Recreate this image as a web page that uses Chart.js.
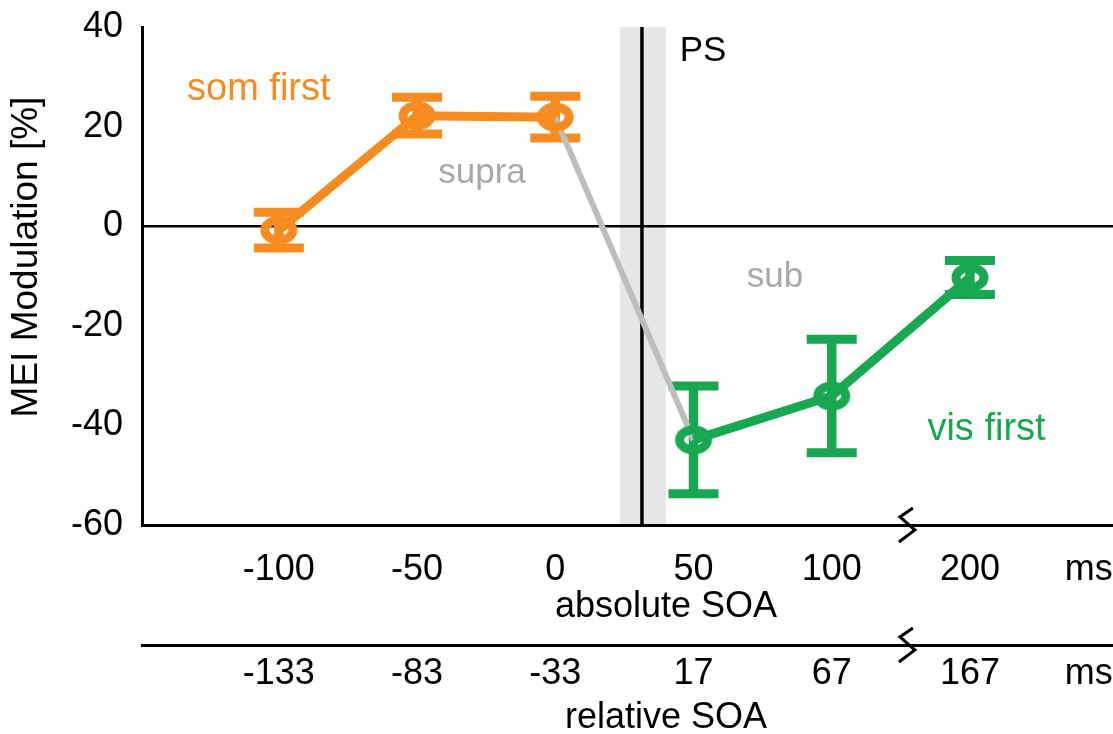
<!DOCTYPE html>
<html><head><meta charset="utf-8">
<script src="https://cdn.jsdelivr.net/npm/chart.js@4.4.1/dist/chart.umd.min.js"></script>
<style>html,body{margin:0;padding:0;background:#fff;}#wrap{width:1113px;height:734px;}</style>
</head><body><div id="wrap"><canvas id="c" width="1113" height="734"></canvas></div>
<script>
// ---- data ----
const categoryIndex = [0, 1, 2, 3, 4, 5];
const absoluteSOA = ['-100', '-50', '0', '50', '100', '200'];
const relativeSOA = ['-133', '-83', '-33', '17', '67', '167'];
const unitLabel = 'ms';
const unitPosition = [5.86];
const somFirstIdx = [0, 1, 2];
const somFirstValues = [-0.8, 22.2, 21.9];
const somFirstErrors = [3.6, 3.7, 4.2];
const visFirstIdx = [3, 4, 5];
const visFirstValues = [-42.9, -34.1, -10.3];
const visFirstErrors = [10.8, 11.4, 3.4];
const yTickValues = [-60, -40, -20, 0, 20, 40];
const psPosition = [2.627];
const psBand = [2.467, 2.80];
const axisBreak = [4.544];

const FONT = '"Liberation Sans", Arial, Helvetica, sans-serif';
const ORANGE = '#F68B1F', GREEN = '#17A851', GRAYLINE = '#BCBEC0', BAND = '#E6E7E8', GRAYTXT = '#A7A9AC';

function ring(color) {
  const c = document.createElement('canvas');
  c.width = 42; c.height = 34;
  const g = c.getContext('2d');
  g.strokeStyle = color; g.lineWidth = 9;
  g.beginPath(); g.ellipse(21, 17, 14, 10, 0, 0, Math.PI * 2); g.stroke();
  return c;
}

const somPts = somFirstIdx.map((x, i) => ({x, y: somFirstValues[i]}));
const visPts = visFirstIdx.map((x, i) => ({x, y: visFirstValues[i]}));
const connector = [somPts[somPts.length - 1], visPts[0]];
const tickPos = categoryIndex.concat(unitPosition);
const absLabels = absoluteSOA.concat([unitLabel]);
const relLabels = relativeSOA.concat([unitLabel]);

const decor = {
  id: 'decor',
  beforeDraw(chart) {
    const {ctx, chartArea: a, scales: {x, y}} = chart;
    ctx.save();
    ctx.fillStyle = BAND;
    const b0 = x.getPixelForValue(psBand[0]), b1 = x.getPixelForValue(psBand[1]);
    ctx.fillRect(b0, a.top, b1 - b0, a.bottom - a.top);
    ctx.strokeStyle = '#000'; ctx.lineWidth = 3.5;
    const p = x.getPixelForValue(psPosition[0]);
    ctx.beginPath(); ctx.moveTo(p, a.top); ctx.lineTo(p, a.bottom); ctx.stroke();
    ctx.restore();
  },
  beforeDatasetsDraw(chart) {
    const {ctx, scales: {x, y}} = chart;
    ctx.save();
    const series = [[somFirstIdx, somFirstValues, somFirstErrors, ORANGE], [visFirstIdx, visFirstValues, visFirstErrors, GREEN]];
    series.forEach(([xs, vs, es, col]) => {
      ctx.strokeStyle = col; ctx.lineCap = 'butt';
      xs.forEach((xi, i) => {
        const px = x.getPixelForValue(xi);
        const t = y.getPixelForValue(vs[i] + es[i]);
        const b = y.getPixelForValue(vs[i] - es[i]);
        ctx.lineWidth = 9.5;
        ctx.beginPath(); ctx.moveTo(px, t); ctx.lineTo(px, b); ctx.stroke();
        ctx.lineWidth = 9;
        ctx.beginPath(); ctx.moveTo(px - 25, t); ctx.lineTo(px + 25, t);
        ctx.moveTo(px - 25, b); ctx.lineTo(px + 25, b); ctx.stroke();
      });
    });
    ctx.restore();
  },
  afterDraw(chart) {
    const {ctx, scales: {x, y, x2}} = chart;
    ctx.save();
    ctx.strokeStyle = '#000'; ctx.lineWidth = 3; ctx.lineJoin = 'miter';
    const bx = x.getPixelForValue(axisBreak[0]);
    [x.top, x2.top].forEach(ly => {
      ctx.beginPath();
      ctx.moveTo(bx + 6, ly - 17); ctx.lineTo(bx - 7, ly - 8);
      ctx.lineTo(bx + 8, ly + 5); ctx.lineTo(bx - 8, ly + 17);
      ctx.stroke();
    });
    const txt = (s, vx, vy, col, size, align) => {
      ctx.fillStyle = col; ctx.font = size + 'px ' + FONT;
      ctx.textAlign = align || 'center'; ctx.textBaseline = 'alphabetic';
      ctx.fillText(s, x.getPixelForValue(vx), y.getPixelForValue(vy));
    };
    txt('som first', -0.145, 25.3, ORANGE, 38);
    txt('supra', 1.47, 8.7, GRAYTXT, 35);
    txt('sub', 3.59, -12.2, GRAYTXT, 35);
    txt('vis first', 5.12, -42.9, GREEN, 38);
    txt('PS', 2.90, 33.2, '#000', 35, 'left');
    ctx.fillStyle = '#000'; ctx.textAlign = 'center'; ctx.textBaseline = 'alphabetic';
    ctx.font = '36px ' + FONT;
    ctx.fillText('absolute SOA', 666, 617);
    ctx.fillText('relative SOA', 666, 728);
    ctx.save();
    ctx.translate(27, 257); ctx.rotate(-Math.PI / 2);
    ctx.font = '37px ' + FONT; ctx.textBaseline = 'middle';
    ctx.fillText('MEI Modulation [%]', 0, 0);
    ctx.restore();
    ctx.restore();
  }
};

const xTicks = (labels) => ({
  autoSkip: false, maxRotation: 0, minRotation: 0, color: '#000',
  font: {family: FONT, size: 36},
  callback: (v, i) => labels[i]
});
const noPadX = s => { s.paddingLeft = 0; s.paddingRight = 0; };

new Chart(document.getElementById('c'), {
  type: 'line',
  data: {
    datasets: [
      {data: somPts, borderColor: ORANGE, borderWidth: 9, pointStyle: ring(ORANGE), pointRadius: 10, order: 1, tension: 0},
      {data: visPts, borderColor: GREEN, borderWidth: 9, pointStyle: ring(GREEN), pointRadius: 10, order: 1, tension: 0},
      {data: connector, borderColor: GRAYLINE, borderWidth: 6, pointRadius: 0, order: 3, tension: 0}
    ]
  },
  options: {
    responsive: false, animation: false, devicePixelRatio: 1,
    layout: {autoPadding: false, padding: {top: 27, right: 0, bottom: 0, left: 0}},
    plugins: {legend: {display: false}, tooltip: {enabled: false}},
    scales: {
      x: {
        type: 'linear', position: 'bottom', weight: 0, min: -0.99, max: 6.035,
        grid: {display: false, drawTicks: false},
        border: {display: true, color: '#000', width: 3},
        afterBuildTicks: s => { s.ticks = tickPos.map(v => ({value: v})); },
        ticks: Object.assign(xTicks(absLabels), {padding: 23}),
        afterFit: s => { s.height = 120; noPadX(s); }
      },
      x2: {
        type: 'linear', position: 'bottom', weight: 1, min: -0.99, max: 6.035,
        grid: {display: false, drawTicks: false},
        border: {display: true, color: '#000', width: 3},
        afterBuildTicks: s => { s.ticks = tickPos.map(v => ({value: v})); },
        ticks: Object.assign(xTicks(relLabels), {padding: 7}),
        afterFit: s => { s.height = 89; noPadX(s); }
      },
      y: {
        type: 'linear', min: -60, max: 40,
        afterBuildTicks: s => { s.ticks = yTickValues.map(v => ({value: v})); },
        grid: {drawTicks: false, color: c => c.tick && c.tick.value === 0 ? '#000' : 'rgba(0,0,0,0)', lineWidth: c => c.tick && c.tick.value === 0 ? 2.5 : 0},
        border: {display: true, color: '#000', width: 3},
        ticks: {padding: 19, color: '#000', font: {family: FONT, size: 36}},
        afterFit: s => { s.width = 142; s.paddingTop = 0; s.paddingBottom = 0; }
      }
    }
  },
  plugins: [decor]
});
</script></body></html>
